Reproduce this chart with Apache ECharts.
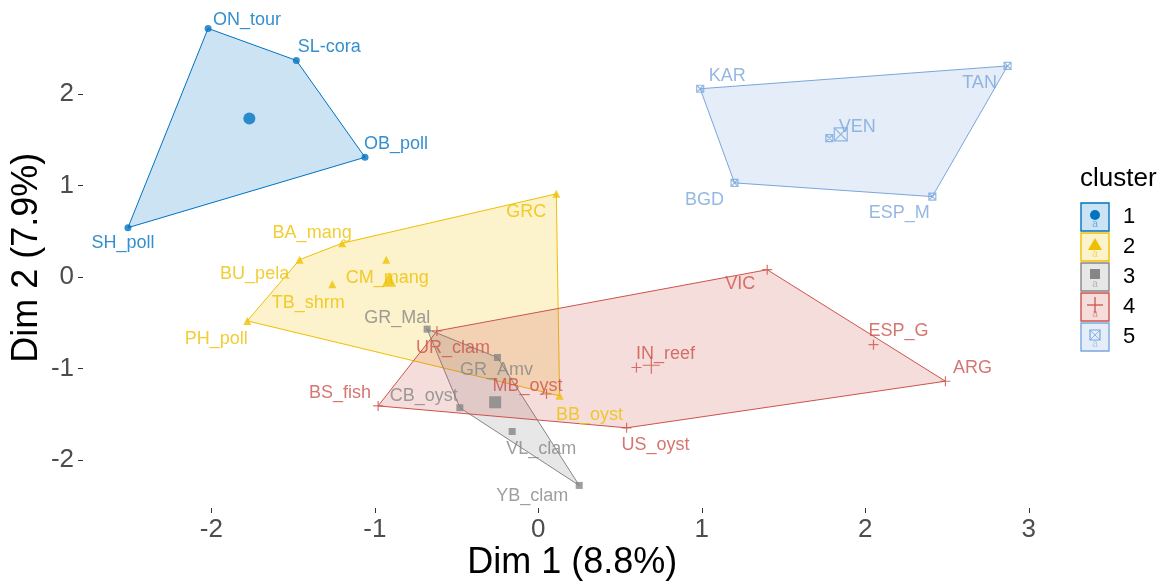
<!DOCTYPE html>
<html>
<head>
<meta charset="utf-8">
<script src="https://cdn.jsdelivr.net/npm/echarts@6/dist/echarts.min.js"></script>
<style>
  html, body { margin: 0; padding: 0; background: #ffffff; }
  #chart { width: 1169px; height: 588px; }
</style>
</head>
<body>
<div id="chart"></div>
<script>
// ---- data: cluster members on the first two dimensions ----
const clusterIds = ['1', '2', '3', '4', '5'];

const c1Names = ['ON_tour', 'SL-cora', 'OB_poll', 'SH_poll'];
const c1Dim1  = [-2.02, -1.48, -1.06, -2.51];
const c1Dim2  = [ 2.72,  2.37,  1.31,  0.54];

const c2Names = ['BA_mang', 'GRC', 'BU_pela', 'CM_mang', 'TB_shrm', 'PH_poll', 'BB_oyst'];
const c2Dim1  = [-1.20, 0.11, -1.46, -0.93, -1.26, -1.78,  0.13];
const c2Dim2  = [ 0.37, 0.91,  0.19,  0.19, -0.08, -0.48, -1.30];

const c3Names = ['GR_Mal', 'GR_Amv', 'CB_oyst', 'VL_clam', 'YB_clam'];
const c3Dim1  = [-0.68, -0.25, -0.48, -0.16,  0.25];
const c3Dim2  = [-0.57, -0.88, -1.43, -1.69, -2.28];

const c4Names = ['UR_clam', 'BS_fish', 'MB_oyst', 'US_oyst', 'IN_reef', 'VIC', 'ESP_G', 'ARG'];
const c4Dim1  = [-0.62, -0.98,  0.05,  0.54,  0.60, 1.40,  2.05,  2.49];
const c4Dim2  = [-0.59, -1.41, -1.28, -1.65, -0.99, 0.08, -0.74, -1.14];

const c5Names = ['KAR', 'TAN', 'BGD', 'ESP_M', 'VEN'];
const c5Dim1  = [0.99, 2.87, 1.20, 2.41, 1.78];
const c5Dim2  = [2.06, 2.31, 1.03, 0.88, 1.52];

const xTicks = [-2, -1, 0, 1, 2, 3];
const yTicks = [-2, -1, 0, 1, 2];
const xTitle = 'Dim 1 (8.8%)';
const yTitle = 'Dim 2 (7.9%)';
const legendTitle = 'cluster';

// ---- presentation ----
const palette = ['#0073C2', '#EFC000', '#868686', '#CD534C', '#7AA6DC'];
const FONT = '"Liberation Sans", Arial, Helvetica, sans-serif';

// repelled label placement (pixel nudges from each point)
const labelNudge = {
  'ON_tour': [39, -8], 'SL-cora': [33, -13], 'OB_poll': [31, -13], 'SH_poll': [-5, 15],
  'BA_mang': [-30, -10], 'GRC': [-30, 18], 'BU_pela': [-45, 14], 'CM_mang': [1, 18],
  'TB_shrm': [-24, 19], 'PH_poll': [-31, 18], 'BB_oyst': [30, 19],
  'GR_Mal': [-30, -11], 'GR_Amv': [-1, 13], 'CB_oyst': [-36, -12], 'VL_clam': [29, 18], 'YB_clam': [-47, 11],
  'UR_clam': [16, 17], 'BS_fish': [-38, -13], 'MB_oyst': [-19, -8], 'US_oyst': [29, 17],
  'IN_reef': [29, -13], 'VIC': [-27, 14], 'ESP_G': [25, -14], 'ARG': [27, -13],
  'KAR': [27, -13], 'TAN': [-28, 17], 'BGD': [-30, 17], 'ESP_M': [-33, 16], 'VEN': [28, -11]
};

const PLUS = 'path://M0,5L10,5M5,0L5,10';
const BOXCROSS = 'path://M0,0L10,0L10,10L0,10Z M0,0L10,10 M10,0L0,10';
const shapes = [
  { symbol: 'circle',   filled: true,  size: 7,  big: 12 },
  { symbol: 'triangle', filled: true,  size: 8,  big: 14 },
  { symbol: 'rect',     filled: true,  size: 7,  big: 12 },
  { symbol: PLUS,       filled: false, size: 10, big: 17 },
  { symbol: BOXCROSS,   filled: false, size: 7,  big: 13 }
];

const groups = [
  { names: c1Names, d1: c1Dim1, d2: c1Dim2 },
  { names: c2Names, d1: c2Dim1, d2: c2Dim2 },
  { names: c3Names, d1: c3Dim1, d2: c3Dim2 },
  { names: c4Names, d1: c4Dim1, d2: c4Dim2 },
  { names: c5Names, d1: c5Dim1, d2: c5Dim2 }
];

function withAlpha(hex, a) {
  const r = parseInt(hex.slice(1, 3), 16), g = parseInt(hex.slice(3, 5), 16), b = parseInt(hex.slice(5, 7), 16);
  return 'rgba(' + r + ',' + g + ',' + b + ',' + a + ')';
}

// Andrew's monotone chain convex hull
function convexHull(pts) {
  const p = pts.slice().sort((a, b) => a[0] - b[0] || a[1] - b[1]);
  const cross = (o, a, b) => (a[0] - o[0]) * (b[1] - o[1]) - (a[1] - o[1]) * (b[0] - o[0]);
  const lower = [], upper = [];
  for (const q of p) {
    while (lower.length >= 2 && cross(lower[lower.length - 2], lower[lower.length - 1], q) <= 0) lower.pop();
    lower.push(q);
  }
  for (let i = p.length - 1; i >= 0; i--) {
    const q = p[i];
    while (upper.length >= 2 && cross(upper[upper.length - 2], upper[upper.length - 1], q) <= 0) upper.pop();
    upper.push(q);
  }
  upper.pop(); lower.pop();
  return lower.concat(upper);
}

const mean = arr => arr.reduce((s, v) => s + v, 0) / arr.length;

const hullSeries = [];
const pointSeries = [];
groups.forEach((g, k) => {
  const col = palette[k];
  const sh = shapes[k];
  const pts = g.names.map((n, i) => [g.d1[i], g.d2[i]]);
  const hull = convexHull(pts);

  hullSeries.push({
    type: 'custom',
    name: 'hull' + clusterIds[k],
    silent: true,
    z: 1,
    data: [[0, 0]],
    renderItem: function (params, api) {
      return {
        type: 'polygon',
        shape: { points: hull.map(p => api.coord(p)) },
        style: { fill: withAlpha(col, 0.2), stroke: col, lineWidth: 1 }
      };
    }
  });

  const itemStyle = sh.filled
    ? { color: col }
    : { color: 'rgba(0,0,0,0)', borderColor: col, borderWidth: 1.2 };

  pointSeries.push({
    type: 'scatter',
    name: clusterIds[k],
    symbol: sh.symbol,
    symbolSize: sh.size,
    itemStyle: itemStyle,
    silent: true,
    z: 3,
    label: {
      show: true, position: 'inside', formatter: '{b}',
      color: col, fontSize: 18, fontFamily: FONT,
      align: 'center', verticalAlign: 'middle'
    },
    data: g.names.map((n, i) => ({
      name: n,
      value: [g.d1[i], g.d2[i]],
      label: { offset: labelNudge[n] || [0, 0] }
    }))
  });

  // cluster centre
  pointSeries.push({
    type: 'scatter',
    name: 'centre' + clusterIds[k],
    symbol: sh.symbol,
    symbolSize: sh.big,
    itemStyle: itemStyle,
    silent: true,
    z: 3,
    data: [[mean(g.d1), mean(g.d2)]]
  });
});

// legend keys drawn as graphic elements
const legendGraphics = [
  { type: 'text', left: 1080, top: 166, style: { text: legendTitle, fontSize: 26, fontFamily: FONT, fill: '#000' } }
];
clusterIds.forEach((id, k) => {
  const col = palette[k];
  const y0 = 203 + 30 * k;
  const cx = 1095, cy = y0 + 12;
  legendGraphics.push({
    type: 'rect', shape: { x: 1081, y: y0, width: 28, height: 28 },
    style: { fill: withAlpha(col, 0.2), stroke: col, lineWidth: 1.4 }
  });
  let glyph;
  if (k === 0) glyph = { type: 'circle', shape: { cx: cx, cy: cy, r: 5 }, style: { fill: col } };
  else if (k === 1) glyph = { type: 'polygon', shape: { points: [[cx, cy - 7], [cx - 7, cy + 5], [cx + 7, cy + 5]] }, style: { fill: col } };
  else if (k === 2) glyph = { type: 'rect', shape: { x: cx - 5, y: cy - 6, width: 10, height: 10 }, style: { fill: col } };
  else if (k === 3) glyph = { type: 'group', children: [
    { type: 'line', shape: { x1: cx - 8, y1: cy, x2: cx + 8, y2: cy }, style: { stroke: col, lineWidth: 1.3 } },
    { type: 'line', shape: { x1: cx, y1: cy - 8, x2: cx, y2: cy + 8 }, style: { stroke: col, lineWidth: 1.3 } }
  ] };
  else glyph = { type: 'group', children: [
    { type: 'rect', shape: { x: cx - 5, y: cy - 5, width: 10, height: 10 }, style: { fill: 'none', stroke: col, lineWidth: 1.2 } },
    { type: 'line', shape: { x1: cx - 5, y1: cy - 5, x2: cx + 5, y2: cy + 5 }, style: { stroke: col, lineWidth: 0.8 } },
    { type: 'line', shape: { x1: cx + 5, y1: cy - 5, x2: cx - 5, y2: cy + 5 }, style: { stroke: col, lineWidth: 0.8 } }
  ] };
  legendGraphics.push(glyph);
  legendGraphics.push({
    type: 'text', x: cx, y: cy + 9,
    style: { text: 'a', fontSize: 10, fontFamily: FONT, fill: withAlpha(col, 0.5), align: 'center', verticalAlign: 'middle' }
  });
  legendGraphics.push({
    type: 'text', x: 1123, y: y0 + 14,
    style: { text: id, fontSize: 22, fontFamily: FONT, fill: '#000', verticalAlign: 'middle' }
  });
});

const chart = echarts.init(document.getElementById('chart'), null, { renderer: 'canvas' });
chart.setOption({
  backgroundColor: '#ffffff',
  animation: false,
  grid: { left: 83, right: 107.5, top: 7.4, bottom: 80, containLabel: false, outerBoundsMode: 'none' },
  xAxis: {
    type: 'value', min: -2.785, max: 3.2,
    name: xTitle, nameLocation: 'middle', nameGap: 37, nameMoveOverlap: false,
    nameTextStyle: { fontSize: 36, fontFamily: FONT, color: '#000' },
    axisLine: { show: false, onZero: false },
    splitLine: { show: false },
    axisTick: { show: true, length: 5, customValues: xTicks, lineStyle: { color: '#333', width: 1 } },
    axisLabel: { customValues: xTicks, fontSize: 26, fontFamily: FONT, color: '#4D4D4D', margin: 9 }
  },
  yAxis: {
    type: 'value', min: -2.527, max: 2.95,
    name: yTitle, nameLocation: 'middle', nameGap: 38, nameRotate: 90, nameMoveOverlap: false,
    nameTextStyle: { fontSize: 36, fontFamily: FONT, color: '#000' },
    axisLine: { show: false, onZero: false },
    splitLine: { show: false },
    axisTick: { show: true, length: 5, customValues: yTicks, lineStyle: { color: '#333', width: 1 } },
    axisLabel: { customValues: yTicks, fontSize: 26, fontFamily: FONT, color: '#4D4D4D', margin: 9 }
  },
  graphic: legendGraphics,
  series: hullSeries.concat(pointSeries)
});
</script>
</body>
</html>
